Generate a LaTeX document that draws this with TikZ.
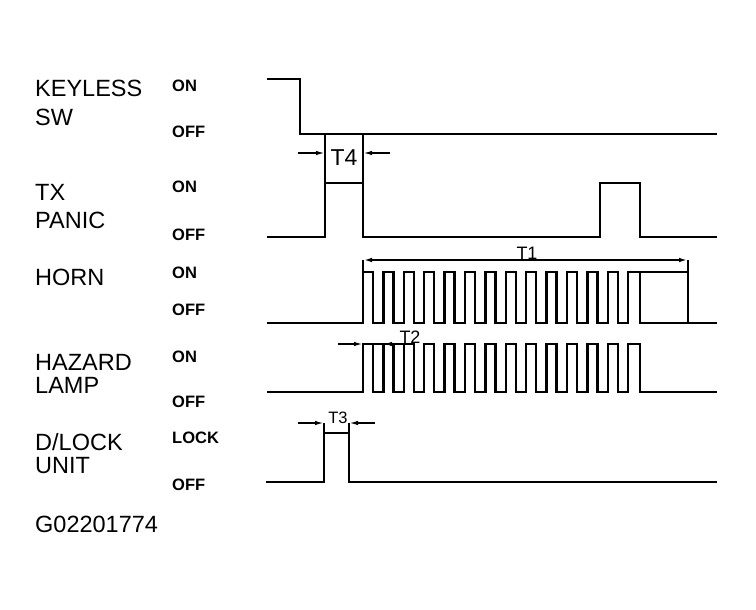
\documentclass[tikz,border=0pt]{standalone}
\usepackage{fontspec}
\setmainfont{Liberation Sans}
\usepackage{tikz}
\usetikzlibrary{arrows.meta,calc}
\pgfkeys{tikz/mywave/.style={line width=2.5pt,line join=miter}}
\pgfkeys{tikz/mydim/.style={line width=1.6pt}}
\pgfkeys{tikz/mydimarrow/.style={mydim,-{Latex[open,length=9pt,width=4.5pt]}}}
\pgfkeys{tikz/mydimboth/.style={mydim,{Latex[open,length=9pt,width=4.5pt]}-{Latex[open,length=9pt,width=4.5pt]}}}
\pgfkeys{tikz/mysignal/.style={font=\fontsize{23.5}{26}\selectfont,anchor=base west,inner sep=0pt}}
\pgfkeys{tikz/mystate/.style={font=\bfseries\fontsize{16.5}{18}\selectfont,anchor=base west,inner sep=0pt}}
\pgfkeys{tikz/mytime/.style={font=\fontsize{18}{20}\selectfont,inner sep=0pt}}
\newcommand*\mydimin[5]{
    \coordinate (#1-l) at ({#3},{#2});
    \coordinate (#1-r) at ({#4},{#2});
    \draw[mydimarrow] ($(#1-l)-(#5,0)$) -- (#1-l);
    \draw[mydimarrow] ($(#1-r)+(#5,0)$) -- (#1-r);
}
\newcommand*\mypulsetrain[2]{
    \draw[mywave] (267,#1)
        \foreach \k in {0,...,12} {
            -- ({363+20.4*\k},#1) -- ({363+20.4*\k},#2)
            -- ({373+20.4*\k},#2) -- ({373+20.4*\k},#1)
        }
        -- (628.2,#1) -- (628.2,#2) -- (640,#2) -- (640,#1) -- (717,#1);
}

\begin{document}
\begin{tikzpicture}[x=1pt,y=-1pt]
    \useasboundingbox (0,0) rectangle (756,610);

    \node[mysignal] (keyless) at (35,97)  {KEYLESS};
    \node[mysignal] (sw)      at (35,125) {SW};
    \node[mysignal] (tx)      at (35,200) {TX};
    \node[mysignal] (panic)   at (35,228) {PANIC};
    \node[mysignal] (horn)    at (35,285) {HORN};
    \node[mysignal] (hazard)  at (35,370) {HAZARD};
    \node[mysignal] (lamp)    at (35,393) {LAMP};
    \node[mysignal] (dlock)   at (35,450) {D/LOCK};
    \node[mysignal] (unit)    at (35,473) {UNIT};
    \node[mysignal] (figno)   at (35,532) {G02201774};

    \node[mystate] (keyless-on)  at (172,92)  {ON};
    \node[mystate] (keyless-off) at (172,138) {OFF};
    \node[mystate] (tx-on)       at (172,193) {ON};
    \node[mystate] (tx-off)      at (172,240) {OFF};
    \node[mystate] (horn-on)     at (172,278) {ON};
    \node[mystate] (horn-off)    at (172,315) {OFF};
    \node[mystate] (hazard-on)   at (172,362) {ON};
    \node[mystate] (hazard-off)  at (172,407) {OFF};
    \node[mystate] (dlock-on)    at (172,443) {LOCK};
    \node[mystate] (dlock-off)   at (172,490) {OFF};

    \draw[mywave] (267,79) -- (300,79) -- (300,134) -- (717,134);
    \draw[mywave] (267,237) -- (325,237) -- (325,183) -- (363,183) -- (363,237)
        -- (600,237) -- (600,183) -- (640,183) -- (640,237) -- (717,237);
    \mypulsetrain{323}{272}
    \mypulsetrain{392}{344}
    \draw[mywave] (266,482) -- (324,482) -- (324,433) -- (349,433) -- (349,482) -- (717,482);

    \draw[mydim] (325,183) -- (325,134);
    \draw[mydim] (363,183) -- (363,134);
    \mydimin{t4}{153}{325}{363}{27}
    \node[mytime,font=\fontsize{23}{25}\selectfont] (t4) at (344,158) {T4};

    \coordinate (t1-l) at (363,260);
    \coordinate (t1-r) at (688,260);
    \draw[mydim] (363,272) -- (t1-l);
    \draw[mydim] (t1-r) -- (688,323);
    \draw[mywave] (640,272) -- (688,272);
    \draw[mydimboth,line width=2.2pt] (t1-l) -- (t1-r);
    \node[mytime,anchor=south] (t1) at (527,260) {T1};

    \mydimin{t2}{344}{363}{383}{25}
    \draw[mydim] (t2-l) -- (t2-r);
    \node[mytime,anchor=south] (t2) at (410,344) {T2};

    \draw[mydim] (324,433) -- (324,423);
    \draw[mydim] (349,433) -- (349,423);
    \mydimin{t3}{423}{324}{349}{26}
    \node[mytime,font=\fontsize{16.5}{18}\selectfont,anchor=south] (t3) at (338,424) {T3};
\end{tikzpicture}
\end{document}
